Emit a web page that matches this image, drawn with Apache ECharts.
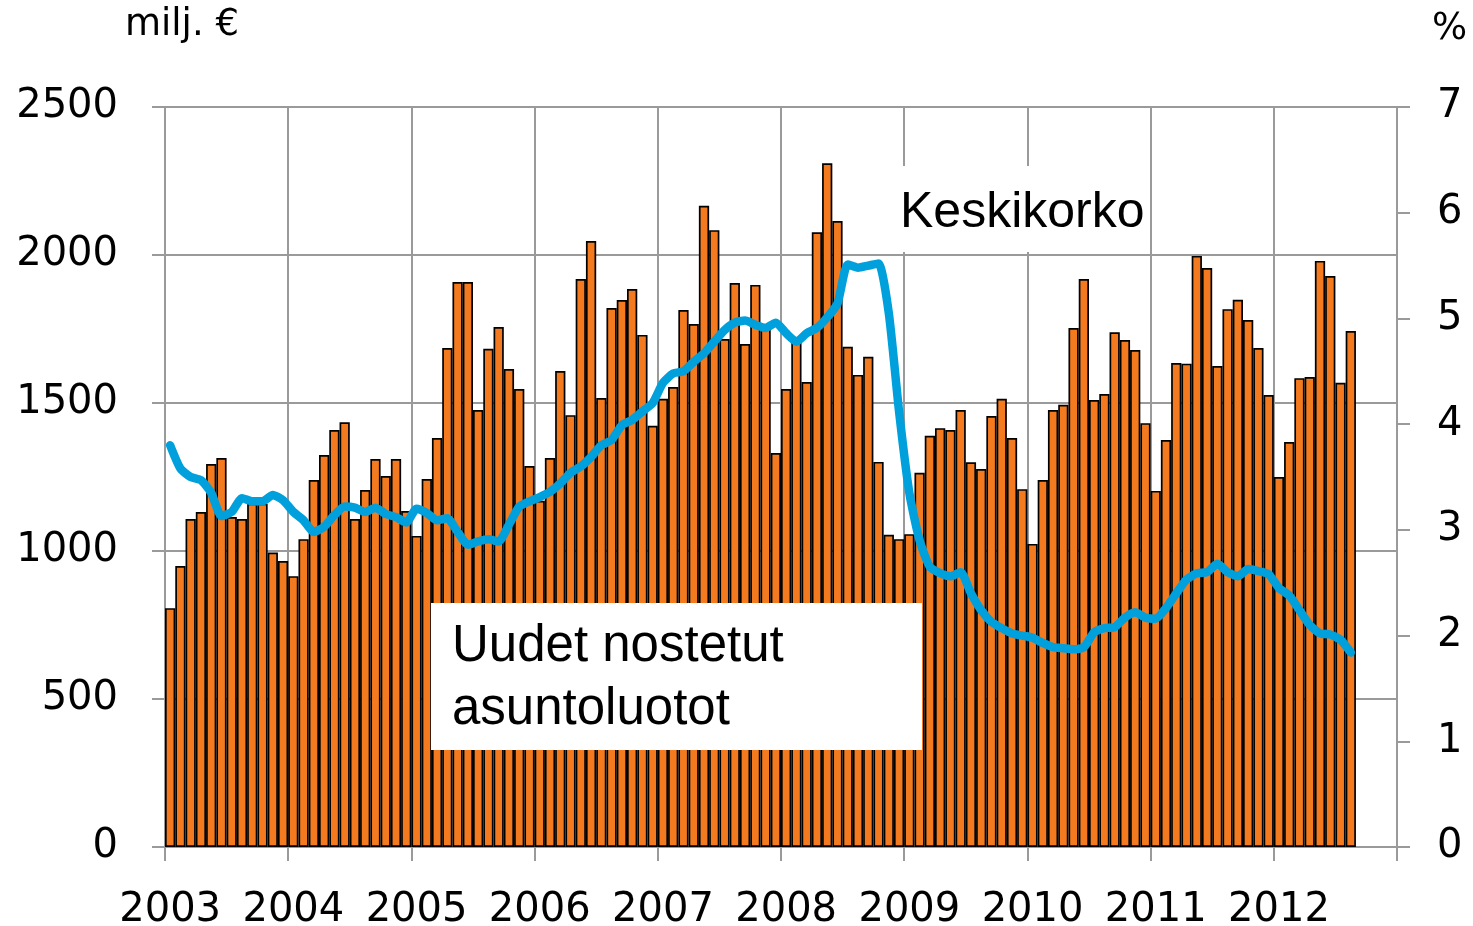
<!DOCTYPE html>
<html>
<head>
<meta charset="utf-8">
<title>Asuntoluotot</title>
<script src="https://cdn.jsdelivr.net/npm/echarts@6/dist/echarts.min.js"></script>
<style>
  html, body { margin: 0; padding: 0; background: #fff; }
  #chart { width: 1473px; height: 926px; }
</style>
</head>
<body>
<div id="chart"></div>
<script>
// vuodet (x-akselin tekstit)
var years = ['2003', '2004', '2005', '2006', '2007', '2008', '2009', '2010', '2011', '2012'];

// Uudet nostetut asuntoluotot, milj. € (kuukausittain 2003/01 - 2012/08)
var loans2003 = [807, 949, 1108, 1132, 1294, 1314, 1115, 1108, 1160, 1160, 995, 966];
var loans2004 = [915, 1040, 1240, 1324, 1409, 1435, 1108, 1206, 1311, 1253, 1311, 1135];
var loans2005 = [1051, 1243, 1382, 1686, 1909, 1909, 1476, 1683, 1757, 1615, 1547, 1287];
var loans2006 = [1170, 1314, 1608, 1459, 1919, 2047, 1517, 1821, 1848, 1885, 1730, 1423];
var loans2007 = [1514, 1554, 1814, 1767, 2166, 2084, 1716, 1905, 1699, 1899, 1750, 1331];
var loans2008 = [1547, 1715, 1571, 2077, 2310, 2115, 1690, 1595, 1656, 1301, 1055, 1040];
var loans2009 = [1057, 1264, 1389, 1415, 1409, 1476, 1300, 1277, 1456, 1514, 1382, 1209];
var loans2010 = [1024, 1240, 1476, 1494, 1753, 1919, 1510, 1530, 1739, 1713, 1679, 1432];
var loans2011 = [1203, 1375, 1635, 1633, 1997, 1956, 1625, 1817, 1849, 1780, 1686, 1527];
var loans2012 = [1250, 1368, 1584, 1588, 1980, 1929, 1568, 1743];

// Keskikorko, %
var rate2003 = [3.80, 3.58, 3.50, 3.47, 3.35, 3.13, 3.17, 3.30, 3.27, 3.27, 3.33, 3.28];
var rate2004 = [3.17, 3.09, 2.98, 3.03, 3.14, 3.22, 3.21, 3.17, 3.21, 3.15, 3.12, 3.07];
var rate2005 = [3.20, 3.16, 3.09, 3.11, 2.98, 2.86, 2.89, 2.91, 2.89, 3.05, 3.22, 3.27];
var rate2006 = [3.31, 3.36, 3.44, 3.54, 3.60, 3.69, 3.80, 3.85, 3.99, 4.04, 4.12, 4.20];
var rate2007 = [4.39, 4.48, 4.50, 4.59, 4.67, 4.78, 4.89, 4.96, 4.98, 4.94, 4.91, 4.96];
var rate2008 = [4.86, 4.78, 4.86, 4.91, 5.01, 5.14, 5.51, 5.48, 5.50, 5.52, 5.05, 4.12];
var rate2009 = [3.35, 2.90, 2.65, 2.59, 2.56, 2.60, 2.40, 2.24, 2.13, 2.07, 2.02, 2.00];
var rate2010 = [1.98, 1.93, 1.89, 1.88, 1.87, 1.89, 2.03, 2.07, 2.08, 2.17, 2.22, 2.17];
var rate2011 = [2.16, 2.26, 2.40, 2.53, 2.59, 2.60, 2.68, 2.60, 2.56, 2.63, 2.61, 2.58];
var rate2012 = [2.45, 2.38, 2.24, 2.10, 2.02, 2.01, 1.96, 1.84];

var loans = [].concat(loans2003, loans2004, loans2005, loans2006, loans2007,
                      loans2008, loans2009, loans2010, loans2011, loans2012);
var rates = [].concat(rate2003, rate2004, rate2005, rate2006, rate2007,
                      rate2008, rate2009, rate2010, rate2011, rate2012);

// kuukausikategoriat
var months = [];
for (var y = 0; y < years.length; y++) {
  for (var m = 1; m <= 12; m++) {
    months.push(years[y] + '-' + (m < 10 ? '0' + m : m));
  }
}

var gridColor = '#9a9a9a';
var numFont = 'DejaVu Sans';
var txtFont = 'Liberation Sans';
var yearStart = function (i) { return i % 12 === 0; };
var plain = function (v) { return String(v); };

var chart = echarts.init(document.getElementById('chart'));
chart.setOption({
  animation: false,
  backgroundColor: '#fff',
  grid: { left: 165, right: 76, top: 107, bottom: 79, outerBoundsMode: 'none', containLabel: false },
  xAxis: {
    type: 'category',
    data: months,
    boundaryGap: true,
    axisLine: { show: true, lineStyle: { color: gridColor, width: 2 } },
    axisTick: { show: true, interval: yearStart, length: 14, lineStyle: { color: gridColor, width: 2 } },
    splitLine: { show: true, interval: yearStart, lineStyle: { color: gridColor, width: 2 } },
    axisLabel: {
      interval: yearStart,
      formatter: function (v) { return v.substr(0, 4); },
      fontFamily: numFont, fontSize: 40, color: '#000', margin: 44
    }
  },
  yAxis: [{
    type: 'value', min: 0, max: 2500, interval: 500,
    axisLine: { show: true, lineStyle: { color: gridColor, width: 2 } },
    axisTick: { show: true, length: 13, lineStyle: { color: gridColor, width: 2 } },
    splitLine: { show: true, lineStyle: { color: gridColor, width: 2 } },
    axisLabel: { formatter: plain, fontFamily: numFont, fontSize: 40, color: '#000', margin: 47 }
  }, {
    type: 'value', min: 0, max: 7, interval: 1,
    axisLine: { show: true, lineStyle: { color: gridColor, width: 2 } },
    axisTick: { show: true, length: 13, lineStyle: { color: gridColor, width: 2 } },
    splitLine: { show: false },
    axisLabel: { formatter: plain, fontFamily: numFont, fontSize: 40, color: '#000', margin: 40 }
  }],
  series: [{
    name: 'Uudet nostetut asuntoluotot',
    type: 'bar',
    data: loans,
    barCategoryGap: '0%',
    itemStyle: { color: '#f47a20', borderColor: '#000', borderWidth: 1.7 },
    z: 2
  }, {
    name: 'Keskikorko',
    type: 'line',
    yAxisIndex: 1,
    data: rates,
    smooth: 0.2,
    symbol: 'none',
    lineStyle: { color: '#00a0dc', width: 8.5, cap: 'round', join: 'round' },
    z: 3
  }],
  graphic: [
    { type: 'text', left: 125, top: 7, z: 100,
      style: { text: 'milj. €', fontFamily: numFont, fontSize: 37, fill: '#000' } },
    { type: 'text', left: 1432, top: 11, z: 100,
      style: { text: '%', fontFamily: numFont, fontSize: 37, fill: '#000' } },
    { type: 'rect', z: 100, shape: { x: 893, y: 166, width: 255, height: 86 },
      style: { fill: '#fff' } },
    { type: 'text', z: 101, x: 900, y: 213,
      style: { text: 'Keskikorko', fontFamily: txtFont, fontSize: 50, fill: '#000',
               textVerticalAlign: 'middle', verticalAlign: 'middle' } },
    { type: 'rect', z: 100, shape: { x: 431, y: 603, width: 491, height: 147 },
      style: { fill: '#fff' } },
    { type: 'text', z: 101, x: 452, y: 647,
      style: { text: 'Uudet nostetut', fontFamily: txtFont, fontSize: 51, fill: '#000',
               textVerticalAlign: 'middle', verticalAlign: 'middle' } },
    { type: 'text', z: 101, x: 452, y: 710,
      style: { text: 'asuntoluotot', fontFamily: txtFont, fontSize: 51, fill: '#000',
               textVerticalAlign: 'middle', verticalAlign: 'middle' } }
  ]
});
</script>
</body>
</html>
